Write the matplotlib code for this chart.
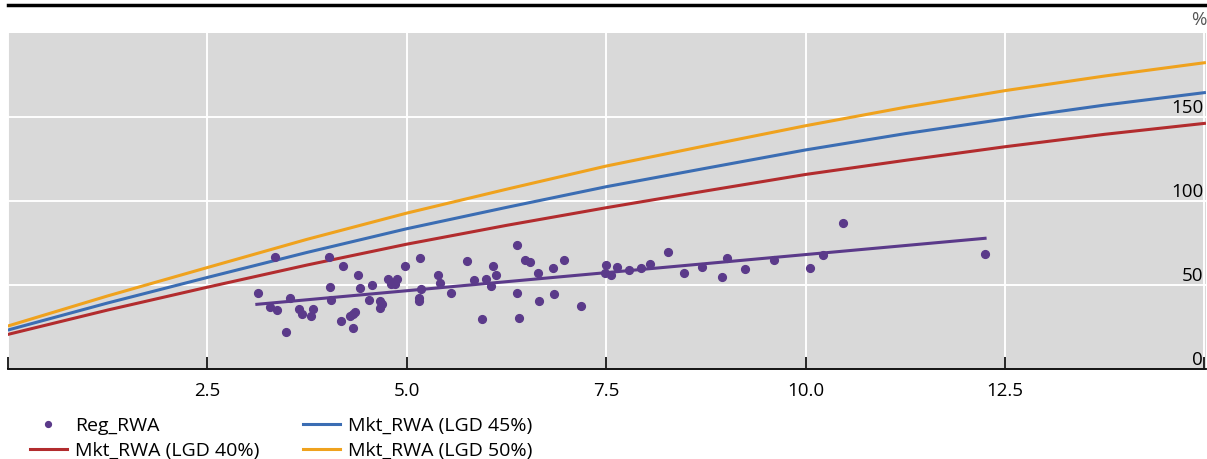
import matplotlib
matplotlib.use("Agg")
import matplotlib.pyplot as plt
from matplotlib.lines import Line2D

plt.rcParams['font.family'] = ['Open Sans', 'DejaVu Sans']

# Scatter: regulatory RWA (y in %)
reg_x = [3.35, 4.03, 4.20, 4.39, 4.98, 5.17, 5.76, 5.39, 5.41, 3.13, 3.54, 4.04,
         4.05, 4.41, 4.56, 4.76, 4.80, 4.85, 4.88, 4.53, 4.66, 4.69, 4.67, 5.18,
         5.15, 5.15, 5.56, 5.84, 5.99, 6.08, 6.12, 6.06, 5.94, 3.29, 3.37, 3.49,
         3.65, 3.69, 3.80, 3.82, 4.18, 4.29, 4.32, 4.35, 4.32,
         6.38, 6.48, 6.55, 6.97, 6.83, 6.65, 6.38, 6.66, 6.84, 7.19, 6.41, 7.50,
         7.48, 7.56, 7.64, 7.79, 7.94, 8.05, 8.28, 8.47, 8.70, 9.01, 8.95, 9.24,
         9.60, 10.06, 10.22, 10.47, 12.25]
reg_y = [66.5, 66.8, 61.5, 56.1, 61.3, 66.1, 64.3, 55.8, 51.2, 45.2, 42.3, 48.6,
         40.9, 48.4, 50.0, 53.6, 50.4, 50.6, 53.8, 41.3, 40.3, 38.9, 36.5, 47.8,
         42.3, 40.7, 45.4, 52.8, 53.8, 61.1, 56.0, 49.6, 29.6, 36.7, 35.1, 22.2,
         35.9, 32.5, 31.5, 35.5, 28.6, 31.5, 32.5, 33.7, 24.6,
         74.0, 64.7, 63.7, 64.9, 60.3, 57.3, 45.4, 40.7, 44.6, 37.7, 30.2, 61.9,
         57.3, 56.1, 60.9, 58.9, 59.9, 62.5, 69.6, 57.1, 60.7, 65.9, 54.8, 59.5,
         64.9, 60.1, 67.7, 87.1, 68.5]

# Fitted line through the scatter
fit_x = [3.12, 12.25]
fit_y = [38.5, 77.8]

# Market RWA curves
curve_x = [0, 1.25, 2.5, 3.75, 5.0, 6.25, 7.5, 8.75, 10.0, 11.25, 12.5, 13.75, 15.0]
mkt_40 = [20.6, 35.1, 48.7, 61.9, 74.3, 85.5, 96.0, 106.0, 115.8, 124.2, 132.3, 139.7, 146.2]
mkt_45 = [23.2, 39.3, 54.5, 69.4, 83.5, 96.2, 108.5, 119.5, 130.4, 140.1, 148.8, 157.1, 164.5]
mkt_50 = [25.6, 43.5, 60.4, 77.2, 92.8, 107.0, 120.8, 132.9, 144.8, 155.8, 165.7, 174.4, 182.3]

x_ticks = [0, 2.5, 5.0, 7.5, 10.0, 12.5, 15.0]
x_labels = ["", "2.5", "5.0", "7.5", "10.0", "12.5", ""]
y_ticks = [0, 50, 100, 150]

purple = "#5b3a8a"
red = "#b22c2e"
blue = "#3b6db3"
orange = "#efa21e"

W, H = 1207, 459
fig = plt.figure(figsize=(W / 100, H / 100), dpi=100)
ax = fig.add_axes([8 / W, 1 - 369 / H, (1206 - 8) / W, (369 - 33) / H])
ax.set_facecolor("#d9d9d9")

ax.plot(reg_x, reg_y, linestyle="none", marker="o", ms=5.6, color=purple,
        label="Reg_RWA", zorder=4)
ax.plot(fit_x, fit_y, color=purple, lw=2.2, zorder=3)
ax.plot(curve_x, mkt_40, color=red, lw=2.2, label="Mkt_RWA (LGD 40%)")
ax.plot(curve_x, mkt_45, color=blue, lw=2.2, label="Mkt_RWA (LGD 45%)")
ax.plot(curve_x, mkt_50, color=orange, lw=2.2, label="Mkt_RWA (LGD 50%)")

ax.set_xlim(0, 15.02)
ax.set_ylim(0, 200)
ax.set_xticks(x_ticks)
ax.set_xticklabels(x_labels)
ax.set_yticks(y_ticks)
ax.grid(True, color="white", lw=1.4)
ax.set_axisbelow(True)

for s in ["top", "left", "right"]:
    ax.spines[s].set_visible(False)
ax.spines["bottom"].set_linewidth(1.3)

ax.tick_params(axis="x", direction="in", length=9, width=1.2, labelsize=13.5, pad=9)
ax.yaxis.tick_right()
ax.tick_params(axis="y", length=0, labelsize=13.5, pad=-2)
for lbl in ax.get_yticklabels():
    lbl.set_horizontalalignment("right")
    lbl.set_verticalalignment("bottom")

# unit label and top rule
fig.text(1206 / W, 1 - 20 / H, "%", ha="right", va="center", fontsize=13.5, color="#555555")
fig.add_artist(Line2D([8 / W, 1], [1 - 5 / H, 1 - 5 / H], color="black", lw=2.5))

handles, labels = ax.get_legend_handles_labels()
fig.legend(handles, labels, ncol=2, loc="upper left", frameon=False,
           bbox_to_anchor=(20 / W, 1 - 407 / H), fontsize=14,
           handlelength=1.9, handletextpad=0.45, columnspacing=2.2,
           labelspacing=0.34, borderpad=0, markerscale=0.75)

fig.savefig("out.png", dpi=100)
